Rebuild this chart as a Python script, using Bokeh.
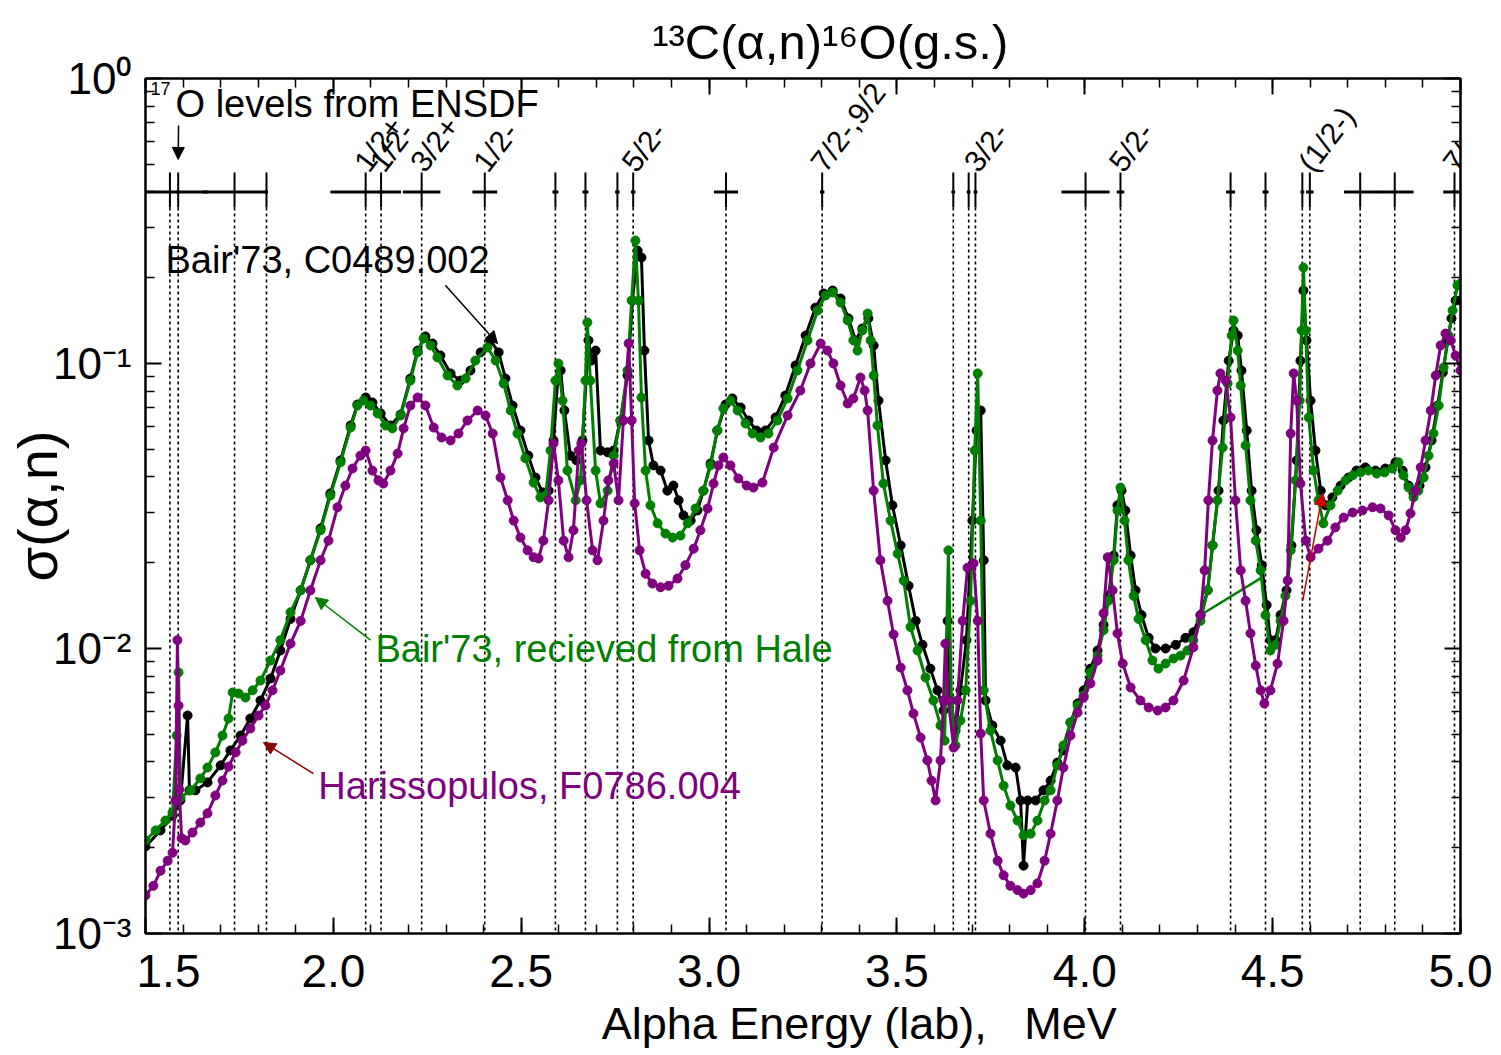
from bokeh.plotting import figure
from bokeh.models import (Range1d, FixedTicker, CustomJSTickFormatter, LinearAxis,
                          LogAxis, Label, Arrow, NormalHead)
from bokeh.core.properties import value
from bokeh.embed import file_html
from bokeh.resources import INLINE

FONT = "Liberation Sans"

# ---------------- data ----------------
black_E = [1.500, 1.540, 1.572, 1.593, 1.612, 1.617, 1.633, 1.665, 1.700, 1.726, 1.753, 1.779, 1.806, 1.833,
           1.859, 1.886, 1.913, 1.939, 1.966, 1.992, 2.019, 2.046, 2.064, 2.086, 2.104, 2.126, 2.152, 2.179,
           2.205, 2.224, 2.245, 2.264, 2.285, 2.312, 2.338, 2.365, 2.392, 2.418, 2.440, 2.458, 2.477, 2.498,
           2.519, 2.538, 2.557, 2.573, 2.586, 2.597, 2.605, 2.615, 2.631, 2.647, 2.663, 2.679, 2.687, 2.698,
           2.711, 2.730, 2.746, 2.764, 2.783, 2.796, 2.810, 2.820, 2.828, 2.839, 2.852, 2.871, 2.889, 2.905,
           2.919, 2.932, 2.951, 2.969, 2.985, 3.004, 3.022, 3.044, 3.062, 3.084, 3.105, 3.126, 3.150, 3.177,
           3.203, 3.230, 3.257, 3.283, 3.305, 3.329, 3.350, 3.371, 3.390, 3.408, 3.424, 3.438, 3.451, 3.470,
           3.488, 3.510, 3.531, 3.550, 3.568, 3.589, 3.608, 3.624, 3.635, 3.643, 3.656, 3.669, 3.685, 3.701,
           3.712, 3.723, 3.731, 3.736, 3.754, 3.776, 3.794, 3.816, 3.829, 3.837, 3.848, 3.869, 3.890, 3.909,
           3.927, 3.943, 3.962, 3.981, 3.997, 4.015, 4.034, 4.050, 4.063, 4.077, 4.087, 4.098, 4.108, 4.122,
           4.135, 4.151, 4.170, 4.188, 4.215, 4.242, 4.268, 4.289, 4.308, 4.327, 4.340, 4.356, 4.369, 4.383,
           4.396, 4.407, 4.417, 4.431, 4.444, 4.457, 4.471, 4.484, 4.494, 4.508, 4.521, 4.537, 4.550, 4.564,
           4.574, 4.582, 4.590, 4.601, 4.614, 4.628, 4.641, 4.659, 4.681, 4.702, 4.723, 4.747, 4.774, 4.800,
           4.827, 4.846, 4.862, 4.875, 4.891, 4.907, 4.923, 4.939, 4.953, 4.966, 4.976, 4.987, 5.000]
black_sig = [0.00202, 0.0023, 0.00259, 0.00293, 0.00582, 0.00318, 0.00318, 0.00339, 0.00389, 0.00439, 0.00495,
             0.00568, 0.00657, 0.00785, 0.00984, 0.0127, 0.016, 0.0204, 0.0264, 0.035, 0.0457, 0.0606, 0.0718,
             0.076, 0.073, 0.0668, 0.0606, 0.0662, 0.0886, 0.111, 0.1245, 0.1175, 0.1067, 0.0923, 0.0871,
             0.0945, 0.1094, 0.1205, 0.1094, 0.0886, 0.0712, 0.0582, 0.0475, 0.0398, 0.0353, 0.0358, 0.0537,
             0.0871, 0.0945, 0.0684, 0.0475, 0.0457, 0.0537, 0.1205, 0.1024, 0.111, 0.0495, 0.0488, 0.0495,
             0.0631, 0.0908, 0.1663, 0.249, 0.2355, 0.111, 0.0537, 0.0439, 0.0421, 0.0358, 0.0373, 0.0331,
             0.0293, 0.0281, 0.0305, 0.0358, 0.0446, 0.0582, 0.0718, 0.0754, 0.0701, 0.0631, 0.0582, 0.0582,
             0.0647, 0.0772, 0.0984, 0.1254, 0.157, 0.176, 0.1803, 0.169, 0.144, 0.1205, 0.1327, 0.144, 0.1157,
             0.0741, 0.0457, 0.0318, 0.023, 0.0166, 0.0125, 0.0103, 0.0085, 0.00713, 0.00606, 0.0125, 0.00657,
             0.00515, 0.00713, 0.0107, 0.0281, 0.0582, 0.0684, 0.0204, 0.00657, 0.00537, 0.00475, 0.00389,
             0.00382, 0.00293, 0.00173, 0.00293, 0.00293, 0.00318, 0.00344, 0.00398, 0.00439, 0.0055, 0.00641,
             0.00713, 0.0085, 0.00984, 0.0121, 0.0153, 0.0212, 0.0318, 0.0358, 0.0305, 0.0212, 0.016, 0.0131,
             0.0109, 0.01, 0.01, 0.0103, 0.0109, 0.0114, 0.0131, 0.016, 0.023, 0.0358, 0.0631, 0.1023, 0.1306,
             0.1254, 0.0945, 0.0582, 0.0358, 0.026, 0.0196, 0.0142, 0.0107, 0.0107, 0.0131, 0.016, 0.023,
             0.0457, 0.1023, 0.1803, 0.1205, 0.0741, 0.0495, 0.0358, 0.0318, 0.0339, 0.0373, 0.0398, 0.0421,
             0.0432, 0.0421, 0.0428, 0.045, 0.0421, 0.0373, 0.035, 0.0373, 0.0432, 0.0537, 0.0712, 0.093,
             0.1205, 0.144, 0.1663, 0.1663]

green_E = [1.500, 1.527, 1.553, 1.572, 1.583, 1.588, 1.593, 1.620, 1.646, 1.665, 1.686, 1.705, 1.721, 1.732,
           1.748, 1.766, 1.785, 1.806, 1.833, 1.859, 1.886, 1.913, 1.939, 1.966, 1.992, 2.019, 2.046, 2.064,
           2.080, 2.099, 2.118, 2.139, 2.157, 2.179, 2.205, 2.224, 2.240, 2.259, 2.277, 2.304, 2.330, 2.352,
           2.378, 2.410, 2.432, 2.453, 2.472, 2.490, 2.511, 2.533, 2.551, 2.565, 2.578, 2.591, 2.599, 2.610,
           2.623, 2.645, 2.658, 2.671, 2.676, 2.684, 2.698, 2.711, 2.730, 2.746, 2.764, 2.783, 2.794, 2.804,
           2.812, 2.820, 2.831, 2.844, 2.863, 2.884, 2.903, 2.924, 2.943, 2.964, 2.985, 3.004, 3.022, 3.038,
           3.057, 3.076, 3.097, 3.116, 3.137, 3.158, 3.182, 3.209, 3.235, 3.262, 3.289, 3.310, 3.329, 3.350,
           3.369, 3.384, 3.395, 3.408, 3.422, 3.430, 3.438, 3.448, 3.464, 3.483, 3.502, 3.518, 3.536, 3.555,
           3.576, 3.597, 3.616, 3.627, 3.637, 3.645, 3.656, 3.669, 3.683, 3.696, 3.707, 3.715, 3.723, 3.731,
           3.749, 3.768, 3.784, 3.802, 3.821, 3.837, 3.856, 3.874, 3.893, 3.909, 3.927, 3.943, 3.962, 3.981,
           3.997, 4.015, 4.034, 4.050, 4.063, 4.077, 4.087, 4.095, 4.106, 4.116, 4.130, 4.143, 4.162, 4.180,
           4.196, 4.215, 4.236, 4.255, 4.273, 4.289, 4.308, 4.327, 4.340, 4.353, 4.367, 4.380, 4.391, 4.396,
           4.407, 4.415, 4.428, 4.441, 4.455, 4.468, 4.481, 4.494, 4.508, 4.521, 4.534, 4.548, 4.561, 4.572,
           4.577, 4.582, 4.588, 4.596, 4.609, 4.622, 4.635, 4.654, 4.673, 4.694, 4.713, 4.734, 4.755, 4.777,
           4.798, 4.819, 4.835, 4.848, 4.862, 4.875, 4.888, 4.902, 4.915, 4.928, 4.942, 4.955, 4.968, 4.979,
           4.992, 5.000]
green_sig = [0.00212, 0.0023, 0.00249, 0.00266, 0.00495, 0.00824, 0.0030, 0.00318, 0.0035, 0.00382, 0.00432,
             0.00495, 0.00568, 0.00701, 0.00695, 0.00673, 0.00713, 0.00772, 0.00908, 0.0107, 0.0134, 0.016,
             0.0204, 0.026, 0.0344, 0.045, 0.0596, 0.0712, 0.0741, 0.0712, 0.0668, 0.0606, 0.0592, 0.0657,
             0.0871, 0.1094, 0.1225, 0.1157, 0.105, 0.0908, 0.0837, 0.0886, 0.1024, 0.1138, 0.1024, 0.0851,
             0.0684, 0.0568, 0.0465, 0.0382, 0.0339, 0.0344, 0.0495, 0.0871, 0.1, 0.0741, 0.0421, 0.0331,
             0.0389, 0.0871, 0.1393, 0.0871, 0.0421, 0.0323, 0.0358, 0.0475, 0.0631, 0.0945, 0.1663, 0.270,
             0.1663, 0.076, 0.0421, 0.0318, 0.0275, 0.0253, 0.0245, 0.0249, 0.0275, 0.031, 0.0358, 0.0439,
             0.0582, 0.0695, 0.0741, 0.0684, 0.0616, 0.0568, 0.055, 0.0568, 0.0631, 0.0754, 0.0945, 0.1205,
             0.1535, 0.1732, 0.1775, 0.1637, 0.1416, 0.1205, 0.111, 0.1306, 0.1498, 0.1205, 0.0908, 0.0606,
             0.0379, 0.0281, 0.0215, 0.0173, 0.0119, 0.00984, 0.00791, 0.00657, 0.00537, 0.00475, 0.0221,
             0.00657, 0.00457, 0.00559, 0.00713, 0.0147, 0.0495, 0.0923, 0.0281, 0.00713, 0.00515, 0.00405,
             0.0033, 0.00281, 0.00249, 0.00221, 0.00224, 0.00249, 0.00293, 0.00318, 0.00389, 0.00457, 0.0055,
             0.00631, 0.00684, 0.00824, 0.00944, 0.0116, 0.0147, 0.0204, 0.0305, 0.0367, 0.0281, 0.0204,
             0.0153, 0.0127, 0.0107, 0.00908, 0.0085, 0.00885, 0.00922, 0.00944, 0.00984, 0.0107, 0.0125,
             0.016, 0.023, 0.0331, 0.0507, 0.0851, 0.1254, 0.1416, 0.111, 0.0837, 0.0516, 0.0331, 0.0239,
             0.0188, 0.0131, 0.00984, 0.0103, 0.0125, 0.0153, 0.0221, 0.0389, 0.0741, 0.1306, 0.217, 0.1306,
             0.0647, 0.0421, 0.0331, 0.0275, 0.0318, 0.0358, 0.0389, 0.0405, 0.0415, 0.0421, 0.0411, 0.0415,
             0.0428, 0.045, 0.0405, 0.0367, 0.0339, 0.0358, 0.0398, 0.0475, 0.0568, 0.0712, 0.0968, 0.1254,
             0.1535, 0.188, 0.191]

# out-of-order pair of points in the Hale set
green_jump_E = [4.316, 4.473]
green_jump_sig = [0.0133, 0.0178]

purple_E = [1.500, 1.521, 1.540, 1.559, 1.572, 1.580, 1.585, 1.588, 1.590, 1.596, 1.606, 1.625, 1.646, 1.665,
            1.686, 1.705, 1.721, 1.740, 1.758, 1.779, 1.801, 1.819, 1.838, 1.859, 1.886, 1.913, 1.939, 1.966,
            1.987, 2.011, 2.032, 2.051, 2.072, 2.086, 2.104, 2.120, 2.133, 2.152, 2.171, 2.187, 2.205, 2.224,
            2.245, 2.267, 2.288, 2.312, 2.333, 2.357, 2.384, 2.405, 2.424, 2.445, 2.464, 2.480, 2.498, 2.517,
            2.533, 2.546, 2.559, 2.573, 2.586, 2.599, 2.613, 2.626, 2.639, 2.653, 2.660, 2.674, 2.690, 2.703,
            2.719, 2.732, 2.746, 2.759, 2.772, 2.786, 2.794, 2.802, 2.815, 2.831, 2.849, 2.871, 2.892, 2.916,
            2.937, 2.959, 2.977, 2.996, 3.012, 3.025, 3.038, 3.057, 3.078, 3.100, 3.118, 3.142, 3.172, 3.209,
            3.243, 3.270, 3.297, 3.315, 3.331, 3.350, 3.369, 3.384, 3.403, 3.414, 3.422, 3.438, 3.456, 3.475,
            3.491, 3.510, 3.528, 3.544, 3.563, 3.581, 3.592, 3.603, 3.616, 3.624, 3.629, 3.637, 3.651, 3.661,
            3.675, 3.688, 3.704, 3.715, 3.723, 3.731, 3.749, 3.768, 3.784, 3.802, 3.821, 3.837, 3.856, 3.874,
            3.893, 3.909, 3.927, 3.943, 3.962, 3.981, 3.997, 4.015, 4.034, 4.050, 4.061, 4.074, 4.087, 4.101,
            4.122, 4.148, 4.170, 4.194, 4.215, 4.236, 4.263, 4.289, 4.308, 4.319, 4.329, 4.340, 4.353, 4.361,
            4.375, 4.388, 4.401, 4.415, 4.428, 4.441, 4.455, 4.468, 4.478, 4.494, 4.513, 4.529, 4.540, 4.548,
            4.556, 4.564, 4.574, 4.588, 4.601, 4.622, 4.646, 4.667, 4.689, 4.713, 4.739, 4.766, 4.787, 4.809,
            4.827, 4.841, 4.854, 4.867, 4.880, 4.894, 4.907, 4.921, 4.934, 4.947, 4.960, 4.974, 4.987, 5.000]
purple_sig = [0.00136, 0.00147, 0.00166, 0.0018, 0.00192, 0.00293, 0.0107, 0.0063, 0.0032, 0.00216, 0.00212,
              0.00226, 0.00245, 0.00264, 0.00305, 0.00344, 0.00385, 0.00432, 0.00475, 0.00524, 0.00582,
              0.00631, 0.00713, 0.00837, 0.0104, 0.0125, 0.016, 0.0204, 0.0239, 0.0313, 0.0373, 0.0428,
              0.0475, 0.0495, 0.0421, 0.0389, 0.0379, 0.0421, 0.0483, 0.0592, 0.0712, 0.076, 0.0712, 0.0596,
              0.055, 0.0537, 0.0568, 0.0631, 0.0684, 0.0657, 0.0568, 0.0398, 0.0331, 0.0281, 0.0245, 0.0221,
              0.0209, 0.0207, 0.0239, 0.0331, 0.0524, 0.0389, 0.0239, 0.0209, 0.026, 0.0495, 0.0524, 0.0331,
              0.0221, 0.0204, 0.0281, 0.0389, 0.0446, 0.0331, 0.0631, 0.1175, 0.0631, 0.0323, 0.0221, 0.0183,
              0.0169, 0.0164, 0.0166, 0.0176, 0.0196, 0.0224, 0.026, 0.031, 0.0379, 0.0439, 0.0468, 0.0439,
              0.0395, 0.0373, 0.0367, 0.0382, 0.0507, 0.0657, 0.0804, 0.1, 0.1175, 0.111, 0.1, 0.0837, 0.0724,
              0.0754, 0.0893, 0.0804, 0.0684, 0.0358, 0.0204, 0.0147, 0.0112, 0.00857, 0.00713, 0.00591,
              0.00487, 0.00405, 0.00344, 0.00293, 0.00405, 0.00657, 0.0104, 0.00657, 0.00449, 0.00657, 0.0125,
              0.0192, 0.0199, 0.0125, 0.00503, 0.00293, 0.00224, 0.0018, 0.0016, 0.00147, 0.00142, 0.00138,
              0.00142, 0.0015, 0.0018, 0.00224, 0.00293, 0.00382, 0.00495, 0.00596, 0.00673, 0.00754, 0.00908,
              0.0133, 0.0209, 0.016, 0.0113, 0.00885, 0.0073, 0.00657, 0.00621, 0.00606, 0.00621, 0.00657,
              0.00772, 0.0101, 0.0131, 0.0188, 0.0331, 0.0537, 0.0804, 0.0923, 0.0871, 0.0647, 0.0331, 0.0188,
              0.0147, 0.0113, 0.00871, 0.00713, 0.00641, 0.00713, 0.00885, 0.0125, 0.0173, 0.0568, 0.0923,
              0.0741, 0.0379, 0.0239, 0.0209, 0.0224, 0.0239, 0.0266, 0.0288, 0.03, 0.0305, 0.0313, 0.031,
              0.0293, 0.026, 0.0245, 0.026, 0.0298, 0.0358, 0.0432, 0.0537, 0.0684, 0.0908, 0.1157, 0.1274,
              0.1205, 0.1067, 0.0945]

# 17O levels (ENSDF) expressed as alpha lab energy, and their widths (half-width, MeV)
level_E = [1.565, 1.587, 1.737, 1.822, 2.086, 2.127, 2.235, 2.403, 2.591, 2.671, 2.756, 2.798, 3.045,
           3.301, 3.650, 3.691, 3.709, 4.002, 4.095, 4.388, 4.481, 4.579, 4.599, 4.733, 4.825, 4.984]
level_hw = [0.10, 0.004, 0.085, 0.004, 0.094, 0.004, 0.050, 0.033, 0.008, 0.008, 0.006, 0.006, 0.032,
            0.006, 0.005, 0.005, 0.005, 0.064, 0.010, 0.012, 0.008, 0.005, 0.010, 0.043, 0.050, 0.030]
jpi_E = [2.086, 2.127, 2.235, 2.403, 2.798, 3.301, 3.709, 4.095, 4.599, 4.984]
jpi_text = ["1/2+", "1/2-", "3/2+", "1/2-", "5/2-", "7/2-,9/2", "3/2-", "5/2-", "(1/2-)", "7/2-"]

x_ticks = [1.5, 2.0, 2.5, 3.0, 3.5, 4.0, 4.5, 5.0]
x_minor = [round(1.5 + 0.1 * i, 1) for i in range(36)]
y_ticks = [1e-3, 1e-2, 1e-1, 1.0]
y_minor = [m * d for d in (1e-3, 1e-2, 1e-1) for m in range(2, 10)]

NB = "\u00a0"
TITLE = NB * 4 + "\u00b9\u00b3C(\u03b1,n)\u00b9\u2076O(g.s.)"
XLABEL = NB * 9 + "Alpha Energy (lab)," + NB * 3 + "MeV"
YLABEL = "\u03c3(\u03b1,n)"

# ---------------- figure ----------------
p = figure(width=1500, height=1054, x_range=Range1d(1.5, 5.0), y_range=Range1d(1e-3, 1.0),
           y_axis_type="log", output_backend="svg", toolbar_location=None,
           min_border_left=145, min_border_right=40, min_border_top=78, min_border_bottom=121)
p.xgrid.visible = False
p.ygrid.visible = False
p.outline_line_color = "black"
p.outline_line_width = 2
p.background_fill_color = "white"
p.border_fill_color = "white"

p.title.text = TITLE
p.title.align = "center"
p.title.text_font = FONT
p.title.text_font_size = "49px"
p.title.text_font_style = "normal"
p.title.text_color = "black"
p.title.standoff = 20


def style_axis(ax, size):
    ax.major_tick_in = 16
    ax.major_tick_out = 0
    ax.minor_tick_in = 9
    ax.minor_tick_out = 0
    ax.major_tick_line_width = 2
    ax.minor_tick_line_width = 1.5
    ax.major_tick_line_color = "black"
    ax.minor_tick_line_color = "black"
    ax.axis_line_color = "black"
    ax.axis_line_width = 2
    ax.major_label_text_font = FONT
    ax.major_label_text_color = "black"
    ax.major_label_text_font_size = size


xtick = FixedTicker(ticks=x_ticks, minor_ticks=x_minor)
ytick = FixedTicker(ticks=y_ticks, minor_ticks=y_minor)
xfmt = CustomJSTickFormatter(code="""
const s = tick.toFixed(1);
return (Math.abs(tick - 1.5) < 1e-9) ? "\u2003" + s : s;
""")
yfmt = CustomJSTickFormatter(code="""
const e = Math.round(Math.log10(tick));
const m = {"0": "\u2070", "1": "\u00b9", "2": "\u00b2", "3": "\u00b3", "-": "\u207b"};
return "10" + String(e).split("").map(c => m[c]).join("");
""")
blank = CustomJSTickFormatter(code="return '';")

xa = p.xaxis[0]
xa.ticker = xtick
xa.formatter = xfmt
style_axis(xa, "46px")
xa.major_label_standoff = 11
xa.axis_label = XLABEL
xa.axis_label_text_font = FONT
xa.axis_label_text_font_size = "45px"
xa.axis_label_text_font_style = "normal"
xa.axis_label_text_color = "black"
xa.axis_label_standoff = -2

ya = p.yaxis[0]
ya.ticker = ytick
ya.formatter = yfmt
style_axis(ya, "44px")
ya.major_label_standoff = 14
ya.axis_label = YLABEL
ya.axis_label_text_font = FONT
ya.axis_label_text_font_size = "56px"
ya.axis_label_text_font_style = "normal"
ya.axis_label_text_color = "black"
ya.axis_label_standoff = -19

top = LinearAxis(ticker=xtick, formatter=blank)
style_axis(top, "10px")
top.major_label_standoff = 0
p.add_layout(top, "above")
right = LogAxis(ticker=ytick, formatter=blank)
style_axis(right, "10px")
right.major_label_standoff = 0
p.add_layout(right, "right")

# ---------------- level markers ----------------
n = len(level_E)
p.segment(x0=level_E, y0=[0.353] * n, x1=level_E, y1=[1e-3] * n,
          line_color="black", line_width=1.6, line_dash="3 3")
p.segment(x0=level_E, y0=[0.353] * n, x1=level_E, y1=[0.468] * n,
          line_color="black", line_width=2)
p.segment(x0=[e - w for e, w in zip(level_E, level_hw)], y0=[0.40] * n,
          x1=[e + w for e, w in zip(level_E, level_hw)], y1=[0.40] * n,
          line_color="black", line_width=3)
p.text(x=jpi_E, y=[0.487] * len(jpi_E), text=jpi_text, angle=0.92, x_offset=-5,
       text_font=value(FONT), text_font_size="30px", text_color="black",
       text_align="left", text_baseline="alphabetic")

# ---------------- data series ----------------
BLACK, GREEN, PURPLE = "black", "#008000", "#800080"
p.line(black_E, black_sig, line_color=BLACK, line_width=3)
p.scatter(black_E, black_sig, marker="circle", size=9, color=BLACK)
p.line(green_E, green_sig, line_color=GREEN, line_width=3)
p.line(green_jump_E, green_jump_sig, line_color=GREEN, line_width=2.5)
p.scatter(green_E, green_sig, marker="circle", size=9, color=GREEN)
p.line(purple_E, purple_sig, line_color=PURPLE, line_width=3)
p.scatter(purple_E, purple_sig, marker="circle", size=9, color=PURPLE)

# ---------------- annotations ----------------
def lab(x, y, text, size, color="black"):
    p.add_layout(Label(x=x, y=y, text=text, text_font=FONT, text_font_size=size,
                       text_color=color, text_align="left", text_baseline="middle"))


def arrow(x0, y0, x1, y1, color):
    p.add_layout(Arrow(end=NormalHead(size=12, fill_color=color, line_color=color),
                       x_start=x0, y_start=y0, x_end=x1, y_end=y1,
                       line_color=color, line_width=1.5))


lab(1.513, 0.925, "17", "18px")
lab(1.580, 0.817, "O levels from ENSDF", "38px")
arrow(1.588, 0.684, 1.587, 0.52, "black")

lab(1.553, 0.23, "Bair'73, C0489.002", "38px", BLACK)
arrow(2.298, 0.188, 2.437, 0.1175, "black")
lab(2.112, 0.00992, "Bair'73, recieved from Hale", "38px", GREEN)
arrow(2.099, 0.0107, 1.952, 0.0151, GREEN)
lab(1.960, 0.00328, "Harissopulos, F0786.004", "38px", PURPLE)
arrow(1.947, 0.00364, 1.814, 0.00468, "#8b0000")
arrow(4.580, 0.0147, 4.633, 0.035, "#cc0000")

open("out.html", "w").write(file_html(p, INLINE))
